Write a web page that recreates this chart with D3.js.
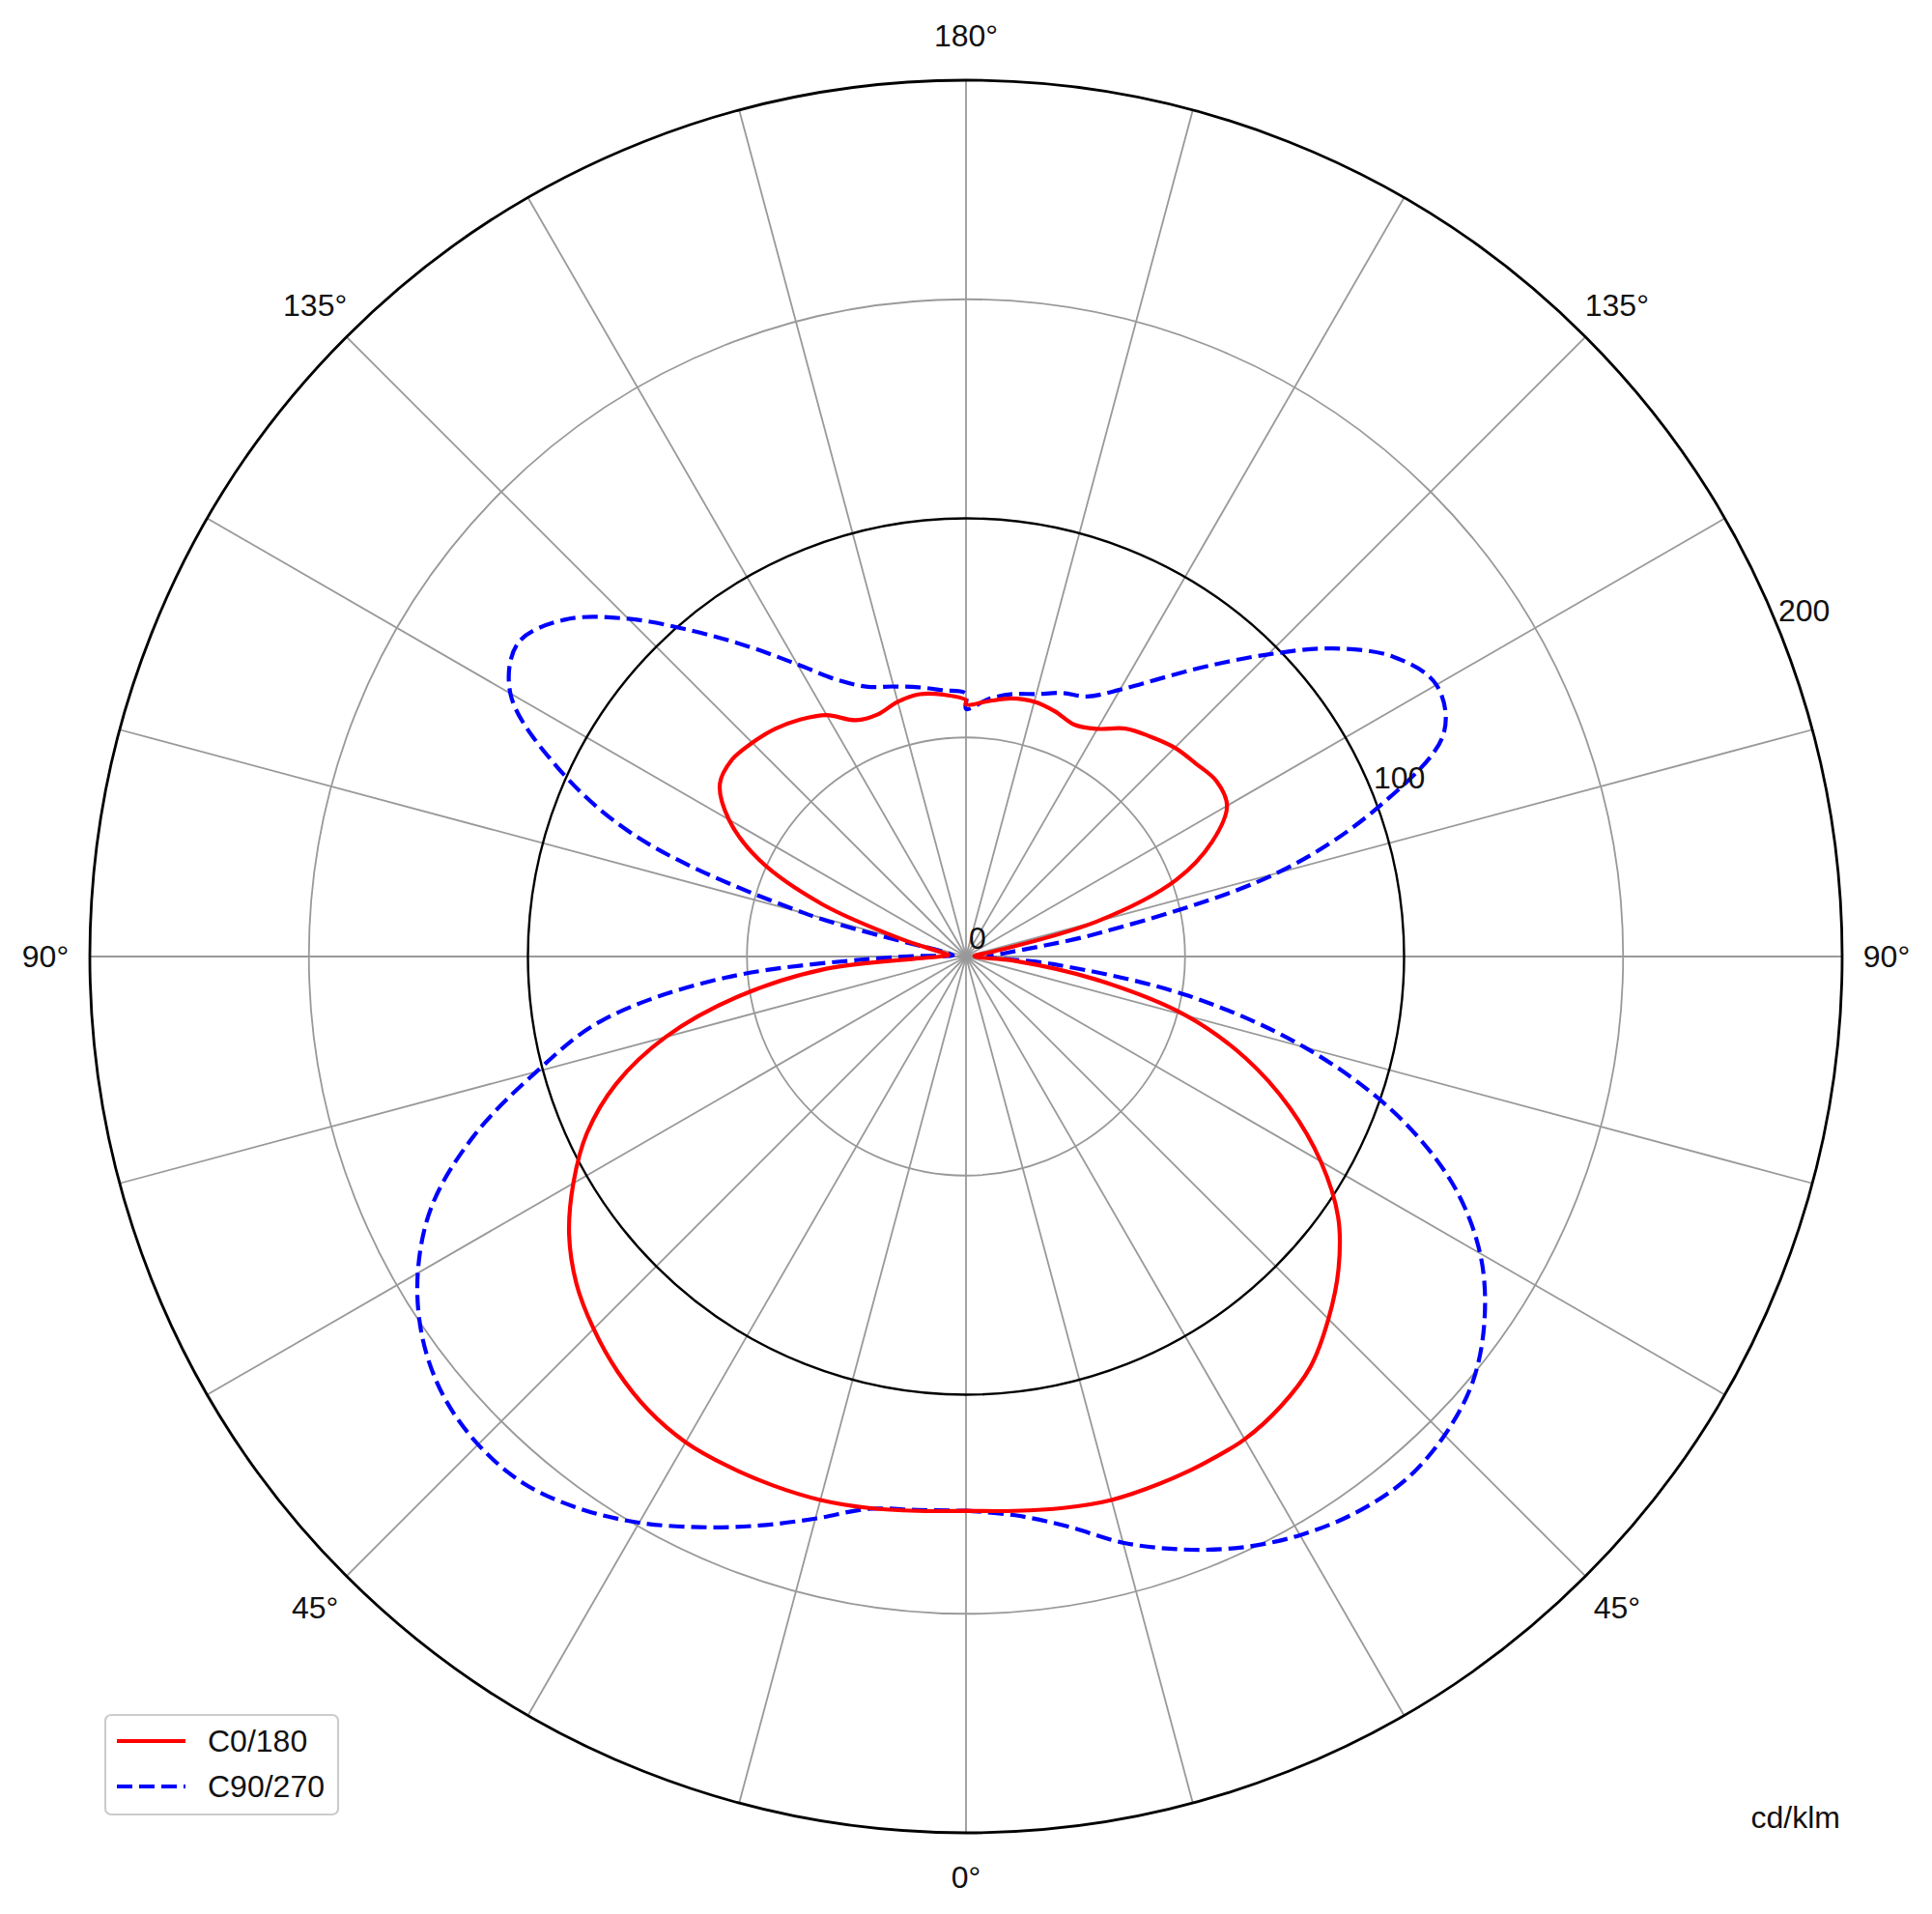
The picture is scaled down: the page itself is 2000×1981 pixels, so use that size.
<!DOCTYPE html>
<html><head><meta charset="utf-8">
<script src="https://cdn.jsdelivr.net/npm/d3@7"></script>
<style>
html,body{margin:0;padding:0;background:#fff;}
svg{display:block;}
text{font-family:"Liberation Sans", Arial, sans-serif; fill:#111;}
</style>
</head><body>
<svg id="chart" width="2000" height="1981"></svg>
<script>
// ---- data ----
const gammaAngles = [0,5,10,15,20,25,30,35,40,45,50,55,60,65,70,75,80,85,90,95,100,105,110,115,120,125,130,135,140,145,150,155,160,165,170,175,180];
// C0/180 (red): right half = C0, left half = C180
const c0   = [126.5,127,127.8,128.4,128.2,127.8,127.2,125.3,122.3,117,111,103.7,93.5,81.5,68,52,30,11,2,2,6,31,51,62,68.8,69.8,68.5,67.4,65.5,63.5,60,58.4,59.5,60.2,59.8,58.5,57.5];
const c180 = [126.5,127,127.8,128.4,128.5,128.4,128,126.4,123.7,120.2,116.1,110.6,103.5,95.5,85,71,53,32,6,4,6,15,35,52,62.5,68.6,69.8,69,67.8,66,63.6,59.5,58.8,60.2,60.8,60,58.5];
// C90/270 (blue): right half = C90, left half = C270
const c90  = [126.5,128,132,138.5,144,148.8,152.5,155,156,154.5,151,144.5,135.5,122.5,104,80,51.5,20,5,9,31,73.4,100.5,120.3,124,119.2,109.4,97.5,86.7,77.5,70.3,65.5,64,62,60.8,59,56.5];
const c270 = [126.5,126.8,128,132.8,138.2,143.7,149.2,153.8,157,157.5,155.8,151.5,144.5,134.5,119.5,101.5,84.5,55,14,3,4,38,80,103.4,120.1,124.8,119.6,109,97,86.3,77,69.7,65.5,63.8,62.4,61,60];

const seriesNames = ["C0/180","C90/270"];
const ringValues = [50,100,150,200];
const ringLabelValues = [0,100,200];
const angleTickValues = [0,45,90,135,180];
const unitLabel = "cd/klm";

// ---- layout ----
const cx = 1000, cy = 990, R = 907;
const svg = d3.select("#chart");
svg.append("rect").attr("width",2000).attr("height",1981).attr("fill","#fff");
const r = d3.scaleLinear().domain([0,200]).range([0,R]);
const toRad = d => d*Math.PI/180;
function pt(g, v, side){
  const a = toRad(g);
  return [cx + side*r(v)*Math.sin(a), cy + r(v)*Math.cos(a)];
}

// grid circles
const gGrid = svg.append("g");
gGrid.selectAll("circle.gray").data(ringValues.filter(v=>v%100!==0)).enter()
  .append("circle").attr("cx",cx).attr("cy",cy).attr("r",d=>r(d))
  .attr("fill","none").attr("stroke","#999").attr("stroke-width",1.8);
// radial lines every 15 deg
const spokes = d3.range(0,360,15);
gGrid.selectAll("line").data(spokes).enter().append("line")
  .attr("x1",cx).attr("y1",cy)
  .attr("x2",d=>cx + R*Math.sin(toRad(d)))
  .attr("y2",d=>cy + R*Math.cos(toRad(d)))
  .attr("stroke","#999").attr("stroke-width",1.8);
gGrid.selectAll("circle.black").data(ringValues.filter(v=>v%100===0)).enter()
  .append("circle").attr("cx",cx).attr("cy",cy).attr("r",d=>r(d))
  .attr("fill","none").attr("stroke","#000").attr("stroke-width",d=>d===200?2.8:2.4);

// curves
function curvePoints(right, left){
  const pts = [];
  gammaAngles.forEach((g,i)=>pts.push(pt(g,right[i],1)));
  for(let i=gammaAngles.length-1;i>=0;i--) pts.push(pt(gammaAngles[i],left[i],-1));
  return pts;
}
const line = d3.line().curve(d3.curveCatmullRom.alpha(0.5));
svg.append("path").attr("d",line(curvePoints(c90,c270)))
  .attr("fill","none").attr("stroke","#0000ff").attr("stroke-width",4.2)
  .attr("stroke-dasharray","16 7");
svg.append("path").attr("d",line(curvePoints(c0,c180)))
  .attr("fill","none").attr("stroke","#ff0000").attr("stroke-width",4.2);

// radial labels at 22.5deg above horizontal (right)
const la = toRad(22.5);
svg.selectAll("text.rl").data(ringLabelValues).enter().append("text")
  .attr("x",d=>cx + r(d)*Math.cos(la) + 3)
  .attr("y",d=>cy - r(d)*Math.sin(la) + (d===0?-8:0))
  .attr("font-size",32).text(d=>String(d));

// angle labels
const rho = 953;
const angLabels = [];
angleTickValues.forEach(v=>{
  if(v===0||v===180) angLabels.push({v, side:1});
  else { angLabels.push({v, side:1}); angLabels.push({v, side:-1}); }
});
svg.selectAll("text.al").data(angLabels).enter().append("text")
  .attr("x",d=>cx + d.side*rho*Math.sin(toRad(d.v)))
  .attr("y",d=>cy + rho*Math.cos(toRad(d.v)) + 11)
  .attr("text-anchor","middle").attr("font-size",32)
  .text(d=>d.v+"°");

svg.append("text").attr("x",1905).attr("y",1892).attr("text-anchor","end")
  .attr("font-size",32).text(unitLabel);

// legend
const lg = svg.append("g");
lg.append("rect").attr("x",109).attr("y",1775).attr("width",241).attr("height",103)
  .attr("rx",6).attr("fill","#fff").attr("stroke","#ccc").attr("stroke-width",2.2);
const legendItems = [
  {name:seriesNames[0], color:"#ff0000", dash:null, y:1802},
  {name:seriesNames[1], color:"#0000ff", dash:"16 7", y:1849}
];
legendItems.forEach(it=>{
  lg.append("line").attr("x1",121).attr("x2",192).attr("y1",it.y).attr("y2",it.y)
    .attr("stroke",it.color).attr("stroke-width",4.2)
    .attr("stroke-dasharray",it.dash);
  lg.append("text").attr("x",215).attr("y",it.y+11).attr("font-size",32).text(it.name);
});
</script>
</body></html>
